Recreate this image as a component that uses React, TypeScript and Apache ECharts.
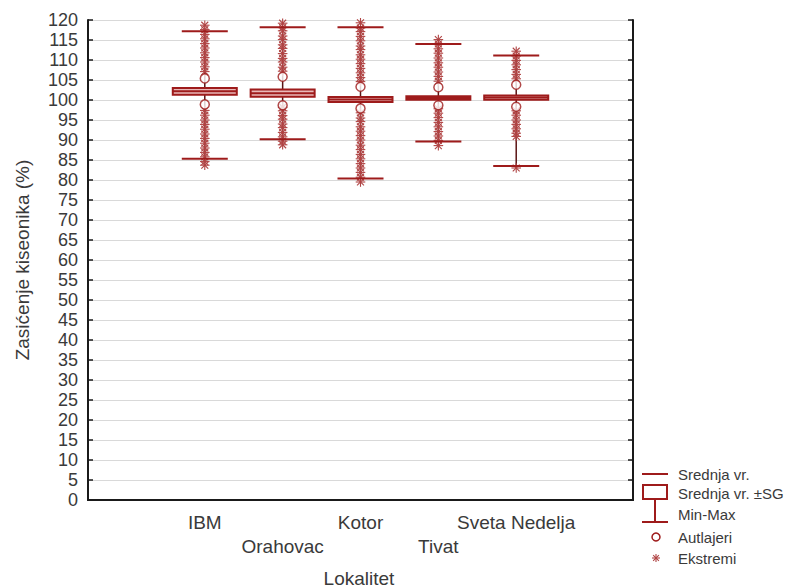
import React, { useEffect, useRef } from "react";
import * as echarts from "echarts";

// Locations along the x axis (blank slots pad both ends of the frame)
const categories = ["", "IBM", "Orahovac", "Kotor", "Tivat", "Sveta Nedelja", ""];
const locations = ["IBM", "Orahovac", "Kotor", "Tivat", "Sveta Nedelja"];

// Summary statistics per location (%)
const means = [102.2, 101.7, 100.1, 100.5, 100.6];
const seLow = [101.3, 100.8, 99.5, 100.05, 100.05];
const seHigh = [103.0, 102.6, 100.75, 100.95, 101.15];
const minVals = [85.3, 90.2, 80.4, 89.6, 83.5];
const maxVals = [117.2, 118.2, 118.2, 114.0, 111.1];

// Outliers (circles)
const outliers = [
  [105.4, 98.9],
  [105.8, 98.7],
  [103.3, 97.9],
  [103.2, 98.7],
  [103.8, 98.3],
];

// Extremes (asterisks)
const extremes = [
  [118.7, 117.6, 116.4, 115.3, 114.1, 113.0, 111.8, 110.6, 109.5, 108.3, 107.1,
    97.4, 96.2, 95.0, 93.9, 92.7, 91.5, 90.4, 89.2, 88.0, 86.9, 85.8, 84.6, 83.7],
  [119.2, 118.1, 117.3, 116.0, 115.1, 113.8, 112.9, 111.6, 110.4, 109.5, 108.2, 107.2,
    98.2, 97.3, 96.1, 95.2, 94.0, 93.1, 91.9, 90.8, 89.7, 88.8],
  [119.3, 118.0, 117.1, 115.9, 114.8, 113.5, 112.6, 111.3, 110.2, 109.1, 107.9, 106.8, 105.6, 104.6,
    96.8, 95.5, 94.6, 93.3, 92.2, 91.1, 90.0, 88.7, 87.6, 86.4, 85.3, 84.1, 83.0, 81.9, 80.7, 79.5],
  [115.1, 114.0, 112.8, 111.7, 110.5, 109.3, 108.2, 107.0, 105.9, 104.7,
    97.8, 96.7, 95.6, 94.4, 93.3, 92.1, 91.0, 89.9, 88.6],
  [112.2, 111.0, 109.9, 108.8, 107.6, 106.4, 105.3,
    97.3, 96.2, 95.0, 93.9, 92.8, 91.7, 90.9, 83.0],
];

const yTicks = { min: 0, max: 120, step: 5 };

const RED = "#9e1b1b";
const STAR = "#b04444";
const TEXT = "#3a3a3a";
const FONT = "'Liberation Sans', Arial, sans-serif";

function asteriskLines(cx: number, cy: number, r: number, stroke: string) {
  const d = r * 0.72;
  const style = { stroke, lineWidth: 1.1 };
  return [
    { type: "line", shape: { x1: cx, y1: cy - r, x2: cx, y2: cy + r }, style },
    { type: "line", shape: { x1: cx - r, y1: cy, x2: cx + r, y2: cy }, style },
    { type: "line", shape: { x1: cx - d, y1: cy - d, x2: cx + d, y2: cy + d }, style },
    { type: "line", shape: { x1: cx - d, y1: cy + d, x2: cx + d, y2: cy - d }, style },
  ];
}

export default function App() {
  const ref = useRef<HTMLDivElement>(null);

  useEffect(() => {
    if (!ref.current) return;
    const chart = echarts.init(ref.current, undefined, { renderer: "svg" });

    const boxData = locations.map((_, i) => [i + 1, means[i], seLow[i], seHigh[i], minVals[i], maxVals[i]]);
    const outlierData: number[][] = [];
    outliers.forEach((vals, i) => vals.forEach((v) => outlierData.push([i + 1, v])));
    const extremeData: number[][] = [];
    extremes.forEach((vals, i) => vals.forEach((v) => extremeData.push([i + 1, v])));

    const legendX = 642;
    const legendText = (text: string, y: number) => ({
      type: "text",
      x: 678,
      y,
      style: { text, fill: TEXT, font: `15px ${FONT}`, verticalAlign: "middle", align: "left" },
    });

    chart.setOption({
      animation: false,
      backgroundColor: "#ffffff",
      grid: { left: 88, top: 20, width: 545, height: 480, containLabel: false },
      xAxis: [
        {
          type: "category",
          data: categories,
          position: "bottom",
          boundaryGap: true,
          axisLine: { lineStyle: { color: "#1a1a1a", width: 2 } },
          axisTick: { inside: true, alignWithLabel: true, length: 5, lineStyle: { color: "#1a1a1a", width: 1.5 } },
          axisLabel: {
            interval: 0,
            margin: 10,
            color: TEXT,
            fontFamily: FONT,
            fontSize: 19,
            lineHeight: 24,
            formatter: (v: string, idx: number) => (idx % 2 === 1 ? v : "\n" + v),
          },
          splitLine: { show: false },
        },
        {
          type: "category",
          data: categories,
          position: "top",
          boundaryGap: true,
          axisLine: { lineStyle: { color: "#1a1a1a", width: 2 } },
          axisTick: { inside: true, alignWithLabel: true, length: 5, lineStyle: { color: "#1a1a1a", width: 1.5 } },
          axisLabel: { show: false },
          splitLine: { show: false },
        },
      ],
      yAxis: [
        {
          type: "value",
          min: yTicks.min,
          max: yTicks.max,
          interval: yTicks.step,
          axisLine: { show: true, lineStyle: { color: "#1a1a1a", width: 2 } },
          axisTick: { show: true, inside: true, length: 5, lineStyle: { color: "#1a1a1a", width: 1.5 } },
          axisLabel: { color: TEXT, fontFamily: FONT, fontSize: 18, margin: 10 },
          splitLine: { show: true, lineStyle: { color: "#d9d9d9", width: 1 } },
        },
        {
          type: "value",
          position: "right",
          min: yTicks.min,
          max: yTicks.max,
          interval: yTicks.step,
          axisLine: { show: true, lineStyle: { color: "#1a1a1a", width: 2 } },
          axisTick: { show: true, inside: true, length: 5, lineStyle: { color: "#1a1a1a", width: 1.5 } },
          axisLabel: { show: false },
          splitLine: { show: false },
        },
      ],
      series: [
        // Min-Max stem
        {
          type: "custom",
          z: 2,
          data: boxData,
          encode: { x: 0, y: [4, 5] },
          renderItem: (_p: any, api: any) => {
            const x = api.value(0);
            const pMin = api.coord([x, api.value(4)]);
            const pMax = api.coord([x, api.value(5)]);
            return {
              type: "line",
              shape: { x1: pMin[0], y1: pMin[1], x2: pMax[0], y2: pMax[1] },
              style: { stroke: "#5a1414", lineWidth: 1.5 },
            };
          },
        },
        // Extremes
        {
          type: "custom",
          z: 3,
          data: extremeData,
          encode: { x: 0, y: 1 },
          renderItem: (_p: any, api: any) => {
            const p = api.coord([api.value(0), api.value(1)]);
            return { type: "group", children: asteriskLines(p[0], p[1], 4.8, STAR) };
          },
        },
        // Outliers
        {
          type: "scatter",
          z: 4,
          data: outlierData,
          symbol: "circle",
          symbolSize: 9,
          itemStyle: { color: "#ffffff", borderColor: RED, borderWidth: 1.5 },
        },
        // Mean, mean ± SE box and Min-Max caps
        {
          type: "custom",
          z: 5,
          data: boxData,
          encode: { x: 0, y: [1, 2, 3, 4, 5] },
          renderItem: (_p: any, api: any) => {
            const x = api.value(0);
            const pMean = api.coord([x, api.value(1)]);
            const pLo = api.coord([x, api.value(2)]);
            const pHi = api.coord([x, api.value(3)]);
            const pMin = api.coord([x, api.value(4)]);
            const pMax = api.coord([x, api.value(5)]);
            const cx = pMean[0];
            const bw = 32;
            const cw = 23;
            const st = { stroke: RED, lineWidth: 2 };
            return {
              type: "group",
              children: [
                { type: "line", shape: { x1: cx - cw, y1: pMax[1], x2: cx + cw, y2: pMax[1] }, style: st },
                { type: "line", shape: { x1: cx - cw, y1: pMin[1], x2: cx + cw, y2: pMin[1] }, style: st },
                {
                  type: "rect",
                  shape: { x: cx - bw, y: pHi[1], width: bw * 2, height: pLo[1] - pHi[1] },
                  style: { fill: "#e9b9b9", stroke: RED, lineWidth: 2 },
                },
                { type: "line", shape: { x1: cx - bw, y1: pMean[1], x2: cx + bw, y2: pMean[1] }, style: st },
              ],
            };
          },
        },
      ],
      graphic: [
        {
          type: "text",
          x: 22,
          y: 260,
          rotation: Math.PI / 2,
          style: {
            text: "Zasićenje kiseonika (%)",
            fill: TEXT,
            font: `19px ${FONT}`,
            align: "center",
            verticalAlign: "middle",
          },
        },
        {
          type: "text",
          x: 359,
          y: 578,
          style: { text: "Lokalitet", fill: TEXT, font: `19px ${FONT}`, align: "center", verticalAlign: "middle" },
        },
        // Legend
        { type: "line", shape: { x1: legendX, y1: 474, x2: legendX + 26, y2: 474 }, style: { stroke: RED, lineWidth: 2 } },
        { type: "rect", shape: { x: legendX + 1, y: 485, width: 24, height: 14 }, style: { fill: "none", stroke: RED, lineWidth: 2 } },
        { type: "line", shape: { x1: legendX + 13, y1: 499, x2: legendX + 13, y2: 522 }, style: { stroke: RED, lineWidth: 2 } },
        { type: "line", shape: { x1: legendX, y1: 522, x2: legendX + 26, y2: 522 }, style: { stroke: RED, lineWidth: 2 } },
        { type: "circle", shape: { cx: legendX + 14, cy: 537, r: 4 }, style: { fill: "#ffffff", stroke: RED, lineWidth: 1.5 } },
        { type: "group", children: asteriskLines(legendX + 14, 558, 4, STAR) },
        legendText("Srednja vr.", 474),
        legendText("Srednja vr. ±SG", 493),
        legendText("Min-Max", 514),
        legendText("Autlajeri", 537),
        legendText("Ekstremi", 558),
      ],
    });

    return () => chart.dispose();
  }, []);

  return <div ref={ref} style={{ position: "absolute", left: 0, top: 0, width: 794, height: 588 }} />;
}
